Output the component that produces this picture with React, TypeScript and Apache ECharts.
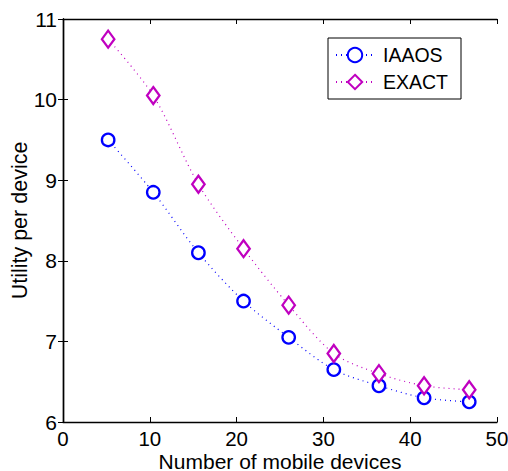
import React, { useEffect, useRef } from "react";
import * as echarts from "echarts";

const xValues = [5.2, 10.4, 15.6, 20.8, 26, 31.2, 36.4, 41.6, 46.8];
const iaaos = [9.5, 8.85, 8.1, 7.5, 7.05, 6.65, 6.45, 6.3, 6.25];
const exact = [10.75, 10.05, 8.95, 8.15, 7.45, 6.85, 6.6, 6.45, 6.4];
const seriesNames = ["IAAOS", "EXACT"];
const xAxisTitle = "Number of mobile devices";
const yAxisTitle = "Utility per device";

const FONT = "Liberation Sans, Arial, Helvetica, sans-serif";
const diamond = "path://M0,-10L7,0L0,10L-7,0Z";

export default function App() {
  const ref = useRef<HTMLDivElement>(null);
  useEffect(() => {
    if (!ref.current) return;
    const chart = echarts.init(ref.current, undefined, { renderer: "svg" });
    const axisLine = { show: true, lineStyle: { color: "#000", width: 1.4 } };
    const tick = { show: true, inside: true, length: 5, lineStyle: { color: "#000", width: 1 } };
    chart.setOption({
      animation: false,
      backgroundColor: "#fff",
      textStyle: { fontFamily: FONT },
      grid: { left: 63, top: 19, right: 11, bottom: 49, containLabel: false, outerBoundsMode: "none" },
      legend: {
        show: true,
        orient: "vertical",
        left: 328,
        top: 38,
        data: seriesNames,
        borderColor: "#000",
        borderWidth: 1,
        padding: [7, 13, 7, 7],
        itemGap: 7,
        itemWidth: 38,
        itemHeight: 18,
        textStyle: { fontFamily: FONT, fontSize: 19.5, color: "#000", padding: [0, 0, 0, 4] },
        backgroundColor: "#fff",
      },
      xAxis: [
        {
          type: "value",
          min: 0,
          max: 50,
          interval: 10,
          name: xAxisTitle,
          nameLocation: "middle",
          nameGap: 30,
          nameMoveOverlap: false,
          nameTextStyle: { fontFamily: FONT, fontSize: 21, lineHeight: 18, color: "#000" },
          axisLine,
          axisTick: tick,
          axisLabel: { fontFamily: FONT, fontSize: 20.5, lineHeight: 16, color: "#000", margin: 8 },
          splitLine: { show: false },
        },
        {
          type: "value",
          position: "top",
          min: 0,
          max: 50,
          interval: 10,
          axisLine,
          axisTick: tick,
          axisLabel: { show: false },
          splitLine: { show: false },
        },
      ],
      yAxis: [
        {
          type: "value",
          min: 6,
          max: 11,
          interval: 1,
          name: yAxisTitle,
          nameLocation: "middle",
          nameGap: 32,
          nameMoveOverlap: false,
          nameTextStyle: { fontFamily: FONT, fontSize: 21.5, color: "#000" },
          axisLine,
          axisTick: tick,
          axisLabel: { fontFamily: FONT, fontSize: 21, color: "#000", margin: 6 },
          splitLine: { show: false },
        },
        {
          type: "value",
          position: "right",
          min: 6,
          max: 11,
          interval: 1,
          axisLine,
          axisTick: tick,
          axisLabel: { show: false },
          splitLine: { show: false },
        },
      ],
      series: [
        {
          name: seriesNames[0],
          type: "line",
          data: xValues.map((x, i) => [x, iaaos[i]]),
          smooth: 0.3,
          symbol: "circle",
          symbolSize: 12.5,
          showAllSymbol: true,
          lineStyle: { color: "#0000ff", width: 1.2, type: [1, 4] },
          itemStyle: { color: "#fff", borderColor: "#0000ff", borderWidth: 2.3 },
        },
        {
          name: seriesNames[1],
          type: "line",
          data: xValues.map((x, i) => [x, exact[i]]),
          smooth: 0.3,
          symbol: diamond,
          symbolSize: [12.5, 17],
          showAllSymbol: true,
          lineStyle: { color: "#c000c0", width: 1.2, type: [1, 4] },
          itemStyle: { color: "#fff", borderColor: "#c000c0", borderWidth: 2.3 },
        },
      ],
    });
    return () => chart.dispose();
  }, []);
  return <div ref={ref} style={{ width: 508, height: 471, position: "absolute", left: 0, top: 0 }} />;
}
